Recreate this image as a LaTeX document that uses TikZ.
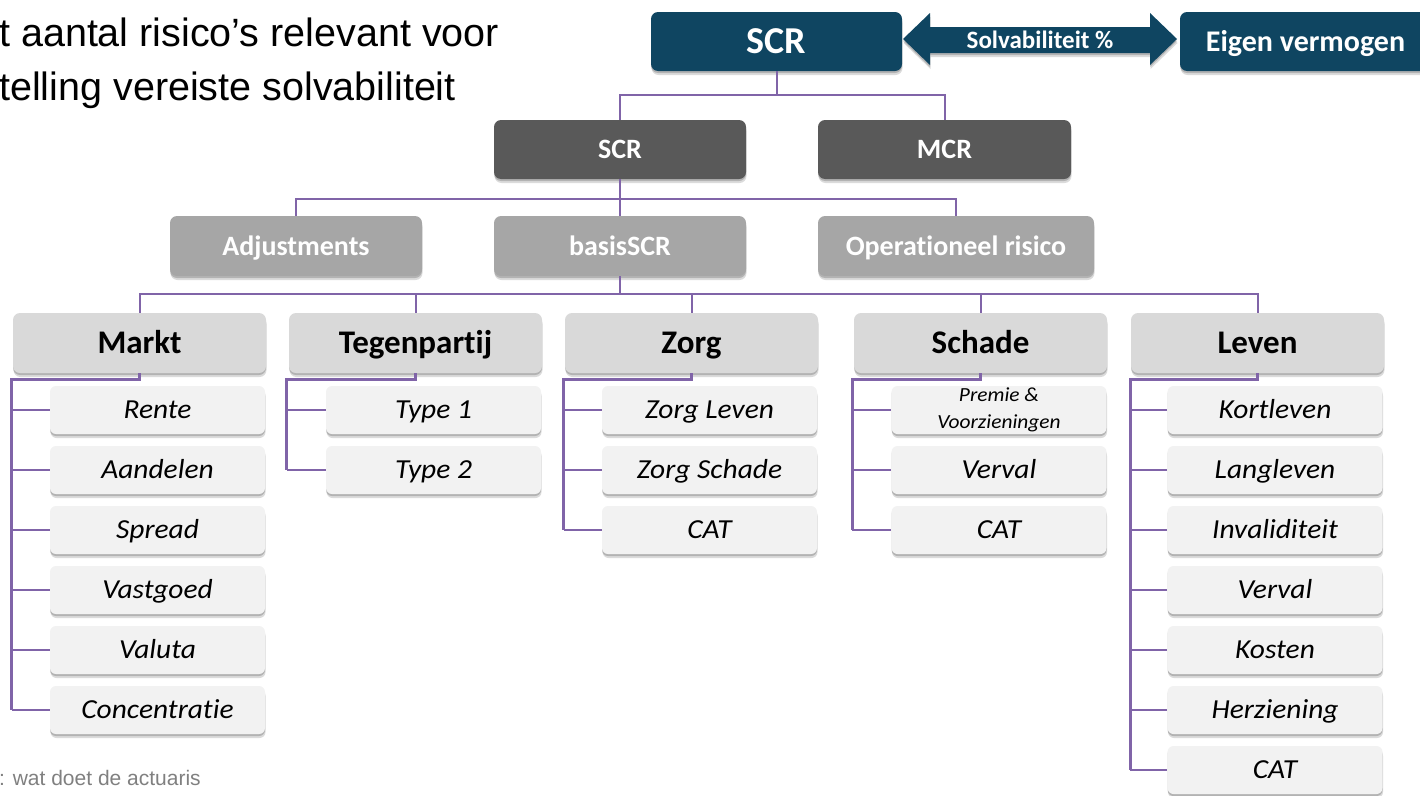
\documentclass[tikz,border=0pt]{standalone}
\usepackage{fontspec}
\setmainfont{Carlito}[Ligatures=NoCommon]
\newfontfamily\arialf{Liberation Sans}
\newfontfamily\itstretch{Carlito}[Ligatures=NoCommon, FakeStretch=1.07, UprightFont=*-Italic]
\usetikzlibrary{shadows,calc}
\definecolor{navy}{HTML}{0F4561}
\definecolor{dgray}{HTML}{595959}
\definecolor{mgray}{HTML}{A6A6A6}
\definecolor{lgray}{HTML}{D9D9D9}
\definecolor{vlgray}{HTML}{F2F2F2}
\definecolor{purp}{HTML}{8064A8}
\definecolor{foot}{HTML}{808080}
\tikzset{
  x=1pt,y=1pt,
  softshadow/.style={drop shadow={shadow xshift=0pt,shadow yshift=-2pt,opacity=.18,fill=black},
                     drop shadow={shadow xshift=0.5pt,shadow yshift=-4pt,opacity=.14,fill=black}},
  basebox/.style={rounded corners=7pt, inner sep=0pt, softshadow},
  topbox/.style={basebox, fill=navy, text=white, minimum width=251pt, minimum height=59pt,
     font=\bfseries\fontsize{38}{40}\selectfont, text height=32.5pt, text depth=8pt},
  eigenbox/.style={basebox, fill=navy, text=white, minimum width=251pt, minimum height=59pt,
     font=\bfseries\fontsize{30}{32}\selectfont, text height=26.3pt, text depth=7pt},
  lvtwo/.style={basebox, fill=dgray, text=white, minimum width=252pt, minimum height=59pt,
     font=\bfseries\fontsize{28}{30}\selectfont, text height=24pt, text depth=6pt},
  lvtwob/.style={basebox, fill=mgray, text=white, minimum width=252pt, minimum height=60pt,
     font=\bfseries\fontsize{28}{30}\selectfont, text height=24pt, text depth=6pt},
  lvthree/.style={basebox, fill=lgray, text=black, minimum width=253pt, minimum height=60pt,
     font=\bfseries\fontsize{33}{35}\selectfont, text height=28.3pt, text depth=7pt},
  lvfour/.style={basebox, rounded corners=6pt, fill=vlgray, text=black, minimum width=215pt, minimum height=48pt,
     font=\itstretch\fontsize{27.5}{30}\selectfont, text height=23.7pt, text depth=6pt},
  conn/.style={draw=purp, line width=2pt},
  trunk/.style={draw=purp, line width=3.2pt, line join=miter},
  branch/.style={draw=purp, line width=1.8pt},
  arrowfill/.style={fill=navy, softshadow},
}
\begin{document}
\begin{tikzpicture}
\useasboundingbox (0,0) rectangle (1420,-795);

% title text
\node[anchor=base west, inner sep=0pt, font=\arialf\fontsize{39.5}{39.5}\selectfont] (t1) at (-1,-46) {t aantal risico’s relevant voor};
\node[anchor=base west, inner sep=0pt, font=\arialf\fontsize{39.5}{39.5}\selectfont] (t2) at (-1,-100) {telling vereiste solvabiliteit};
\node[anchor=base west, inner sep=0pt, text=foot, font=\arialf\fontsize{21}{21}\selectfont] (ft) at (-1,-785) {: wat doet de actuaris};

% top row
\node[topbox] (top) at (776.5,-41.5) {SCR};
\node[eigenbox] (eigen) at (1305.5,-41.5) {Eigen vermogen};
\path[arrowfill] (903,-39) -- (930,-13) -- (930,-27) -- (1150,-27) -- (1150,-13) -- (1177,-39)
   -- (1150,-65) -- (1150,-53) -- (930,-53) -- (930,-65) -- cycle;
\node[text=white, inner sep=0pt, font=\bfseries\fontsize{25}{27}\selectfont, text height=20pt, text depth=4pt] (solv) at (1040,-40) {Solvabiliteit \%};

% level 2
\node[lvtwo] (scr2) at (620,-149.5) {SCR};
\node[lvtwo, minimum width=253pt] (mcr) at (944.5,-149.5) {MCR};

% level 2b
\node[lvtwob] (adj) at (296,-246) {Adjustments};
\node[lvtwob] (basis) at (620,-246) {basisSCR};
\node[lvtwob, minimum width=276pt] (oper) at (956,-246) {Operationeel risico};

% level 3
\node[lvthree] (markt) at (139.5,-343) {Markt};
\node[lvthree] (tegen) at (415.5,-343) {Tegenpartij};
\node[lvthree] (zorg) at (691.5,-343) {Zorg};
\node[lvthree] (schade) at (980.5,-343) {Schade};
\node[lvthree] (leven) at (1257.5,-343) {Leven};

% level 4
\node[lvfour] (rente) at (157.5,-410) {Rente};
\node[lvfour] (aand) at (157.5,-470) {Aandelen};
\node[lvfour] (spread) at (157.5,-530) {Spread};
\node[lvfour] (vast) at (157.5,-590) {Vastgoed};
\node[lvfour] (valuta) at (157.5,-650) {Valuta};
\node[lvfour] (conc) at (157.5,-710) {Concentratie};

\node[lvfour] (type1) at (433.5,-410) {Type 1};
\node[lvfour] (type2) at (433.5,-470) {Type 2};

\node[lvfour] (zleven) at (709.5,-410) {Zorg Leven};
\node[lvfour] (zschade) at (709.5,-470) {Zorg Schade};
\node[lvfour] (zcat) at (709.5,-530) {CAT};

\node[lvfour, align=center, font=\itstretch\fontsize{20}{27}\selectfont, text height=, text depth=] (premie) at (999,-410) {Premie \&\\Voorzieningen};
\node[lvfour] (sverval) at (999,-470) {Verval};
\node[lvfour] (scat) at (999,-530) {CAT};

\node[lvfour] (kort) at (1275,-410) {Kortleven};
\node[lvfour] (lang) at (1275,-470) {Langleven};
\node[lvfour] (inval) at (1275,-530) {Invaliditeit};
\node[lvfour] (lverval) at (1275,-590) {Verval};
\node[lvfour] (kosten) at (1275,-650) {Kosten};
\node[lvfour] (herz) at (1275,-710) {Herziening};
\node[lvfour] (lcat) at (1275,-770) {CAT};

% connectors: upper tree
\draw[conn] (top.south) -- ++(0,-24pt) -| (scr2.north);
\draw[conn] (top.south) -- ++(0,-24pt) -| (mcr.north);
\draw[conn] (scr2.south) -- ++(0,-20pt) -| (adj.north);
\draw[conn] (scr2.south) -- (basis.north);
\draw[conn] (scr2.south) -- ++(0,-20pt) -| (oper.north);
\foreach \c in {markt,tegen,zorg,schade,leven}
  \draw[conn] (basis.south) -- ++(0,-18pt) -| (\c.north);

% connectors: level 4
\draw[trunk] (markt.south) -- ++(0,-6pt) -| ([xshift=-38pt]conc.west);
\draw[branch] ([xshift=-38pt]conc.west) -- (conc.west);
\foreach \c in {rente,aand,spread,vast,valuta}
  \draw[branch] ([xshift=-38pt]\c.west) -- (\c.west);

\draw[trunk] (tegen.south) -- ++(0,-6pt) -| ([xshift=-39pt]type2.west);
\draw[branch] ([xshift=-39pt]type2.west) -- (type2.west);
\draw[branch] ([xshift=-39pt]type1.west) -- (type1.west);

\draw[trunk] (zorg.south) -- ++(0,-6pt) -| ([xshift=-38pt]zcat.west);
\foreach \c in {zleven,zschade,zcat}
  \draw[branch] ([xshift=-38pt]\c.west) -- (\c.west);

\draw[trunk] (schade.south) -- ++(0,-6pt) -| ([xshift=-39pt]scat.west);
\foreach \c in {premie,sverval,scat}
  \draw[branch] ([xshift=-39pt]\c.west) -- (\c.west);

\draw[trunk] (leven.south) -- ++(0,-6pt) -| ([xshift=-37pt]lcat.west);
\foreach \c in {kort,lang,inval,lverval,kosten,herz,lcat}
  \draw[branch] ([xshift=-37pt]\c.west) -- (\c.west);
\end{tikzpicture}
\end{document}
